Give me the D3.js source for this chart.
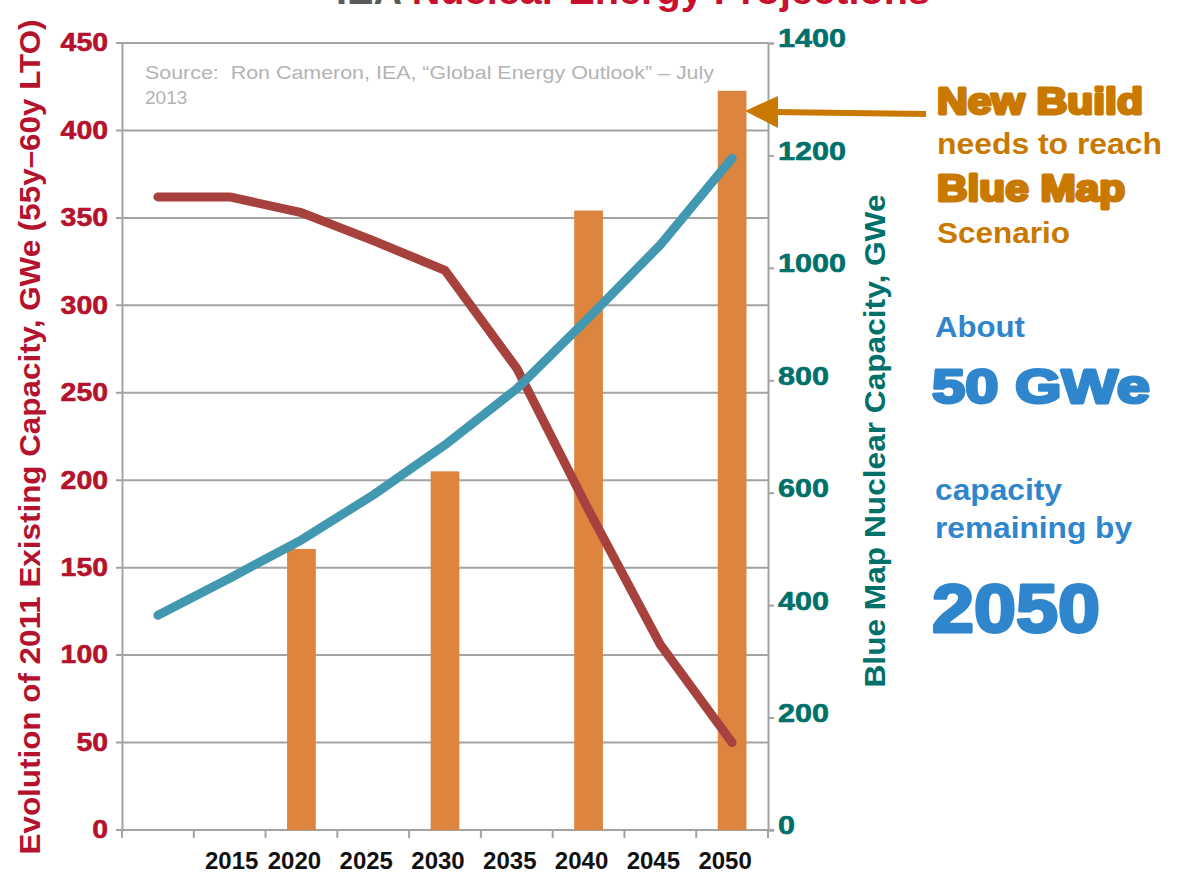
<!DOCTYPE html>
<html>
<head>
<meta charset="utf-8">
<script src="https://cdn.jsdelivr.net/npm/d3@7"></script>
<style>
  body { margin: 0; background: #fff; }
  svg { display: block; font-family: "Liberation Sans", Arial, sans-serif; }
</style>
</head>
<body>
<div id="showBox"></div>
<script>
// years on the x axis (2010 has no label in the original)
const years = ["2010", "2015", "2020", "2025", "2030", "2035", "2040", "2045", "2050"];
// evolution of 2011 existing capacity, GWe (left axis)
const existing = [362, 362, 353, 337, 320, 264, 183, 106, 50];
// blue map nuclear capacity, GWe (right axis)
const blueMap = [382, 448, 516, 596, 685, 785, 911, 1041, 1195];
// new build bars (right axis)
const barYears = ["2020", "2030", "2040", "2050"];
const barValues = [500, 638, 1102, 1315];
const leftTicks = [0, 50, 100, 150, 200, 250, 300, 350, 400, 450];
const rightTicks = [0, 200, 400, 600, 800, 1000, 1200, 1400];

const W = 1180, H = 873;
const plotL = 122, plotR = 768, plotT = 43, plotB = 830;

const red = "#b5122e", teal = "#00706b", grid = "#a3a3a3";
const orange = "#c97800", blue = "#2f86cc";

const svg = d3.select("#showBox").append("svg")
    .attr("width", W).attr("height", H);

const x = d3.scaleBand().domain(years).range([plotL, plotR]);
const yL = d3.scaleLinear().domain([0, 450]).range([plotB, plotT]);
const yR = d3.scaleLinear().domain([0, 1400]).range([plotB, plotT]);

// title, cut off at the top of the picture as in the original
const title = svg.append("text")
    .attr("x", 336).attr("y", 4)
    .attr("font-size", 38).attr("font-weight", "bold")
    .attr("textLength", 594).attr("lengthAdjust", "spacingAndGlyphs");
title.append("tspan").attr("fill", "#5a5a5a").text("IEA ");
title.append("tspan").attr("fill", "#c8102e").text("Nuclear Energy Projections");

// grid lines
svg.append("g").selectAll("line")
    .data(leftTicks)
    .join("line")
    .attr("x1", plotL - 6).attr("x2", plotR)
    .attr("y1", d => yL(d)).attr("y2", d => yL(d))
    .attr("stroke", grid).attr("stroke-width", 2);

// left axis
const gL = svg.append("g").attr("transform", `translate(${plotL},0)`)
    .call(d3.axisLeft(yL).tickValues(leftTicks).tickSize(0).tickPadding(14));
gL.select(".domain").attr("stroke", grid).attr("stroke-width", 2);
gL.selectAll("text")
    .attr("fill", red).attr("font-size", 26).attr("font-weight", "bold")
    .attr("font-family", "Liberation Sans, Arial, sans-serif")
    .attr("stroke", red).attr("stroke-width", 0.6)
    .attr("dy", "0.3em")
    .attr("textLength", d => String(d).length * 15.8).attr("lengthAdjust", "spacingAndGlyphs");

// right axis
const gR = svg.append("g").attr("transform", `translate(${plotR},0)`)
    .call(d3.axisRight(yR).tickValues(rightTicks).tickSize(6).tickPadding(4).tickFormat(d3.format("d")));
gR.select(".domain").attr("stroke", grid).attr("stroke-width", 2);
gR.selectAll(".tick line").attr("stroke", grid).attr("stroke-width", 2);
gR.selectAll("text")
    .attr("fill", teal).attr("font-size", 26).attr("font-weight", "bold")
    .attr("font-family", "Liberation Sans, Arial, sans-serif")
    .attr("stroke", teal).attr("stroke-width", 0.6)
    .attr("dy", "0.15em")
    .attr("textLength", d => String(d).length * 17).attr("lengthAdjust", "spacingAndGlyphs");

// bottom axis
const gB = svg.append("g").attr("transform", `translate(0,${plotB})`)
    .call(d3.axisBottom(x).tickSize(0).tickPadding(22).tickFormat(d => d === "2010" ? "" : d));
gB.select(".domain").attr("stroke", grid).attr("stroke-width", 2)
    .attr("d", `M${plotL - 6},0H${plotR + 6}`);
gB.selectAll("text")
    .attr("fill", "#111").attr("font-size", 24).attr("font-weight", "bold")
    .attr("font-family", "Liberation Sans, Arial, sans-serif")
    .attr("dx", d => d === "2015" ? 2 : -7);
gB.selectAll(".bound")
    .data(years.map(d => x(d)).concat([x.range()[1]]))
    .join("line").attr("class", "bound")
    .attr("x1", d => d).attr("x2", d => d)
    .attr("y1", 0).attr("y2", 8)
    .attr("stroke", grid).attr("stroke-width", 2);

// source note
const src = svg.append("text").attr("fill", "#b3b3b3").attr("font-size", 19)
    .style("white-space", "pre");
src.append("tspan").attr("x", 145).attr("y", 79)
    .attr("textLength", 569).attr("lengthAdjust", "spacingAndGlyphs")
    .text("Source:  Ron Cameron, IEA, \u201cGlobal Energy Outlook\u201d \u2013 July");
src.append("tspan").attr("x", 145).attr("y", 104).text("2013");

// new build bars
const bw = x.bandwidth() * 0.4;
svg.append("g").selectAll("rect")
    .data(barYears.map((d, i) => ({year: d, value: barValues[i]})))
    .join("rect")
    .attr("x", d => x(d.year) + x.bandwidth() / 2 - bw / 2)
    .attr("width", bw)
    .attr("y", d => yR(d.value))
    .attr("height", d => yR(0) - yR(d.value))
    .attr("fill", "#dd843f");

// lines
const cx = d => x(d) + x.bandwidth() / 2;
svg.append("path")
    .datum(years.map((d, i) => [cx(d), yL(existing[i])]))
    .attr("d", d3.line())
    .attr("fill", "none").attr("stroke", "#a6413e").attr("stroke-width", 9)
    .attr("stroke-linecap", "round").attr("stroke-linejoin", "round");
svg.append("path")
    .datum(years.map((d, i) => [cx(d), yR(blueMap[i])]))
    .attr("d", d3.line())
    .attr("fill", "none").attr("stroke", "#4298b0").attr("stroke-width", 9)
    .attr("stroke-linecap", "round").attr("stroke-linejoin", "round");

// axis titles
svg.append("text")
    .attr("transform", "translate(40,437) rotate(-90)")
    .attr("text-anchor", "middle")
    .attr("fill", red).attr("font-size", 29).attr("font-weight", "bold")
    .attr("textLength", 835).attr("lengthAdjust", "spacingAndGlyphs")
    .text("Evolution of 2011 Existing Capacity, GWe (55y\u201360y LTO)");
svg.append("text")
    .attr("transform", "translate(885,441) rotate(-90)")
    .attr("text-anchor", "middle")
    .attr("fill", teal).attr("font-size", 30).attr("font-weight", "bold")
    .attr("textLength", 493).attr("lengthAdjust", "spacingAndGlyphs")
    .text("Blue Map Nuclear Capacity, GWe");

// arrow pointing at the 2050 bar
svg.append("line")
    .attr("x1", 926).attr("y1", 114).attr("x2", 772).attr("y2", 112)
    .attr("stroke", orange).attr("stroke-width", 6);
svg.append("path")
    .attr("d", "M745,111L778,96L778,128Z")
    .attr("fill", orange);

// annotation on the right
const notes = [
    {t: "New Build", y: 114, size: 37, heavy: true, len: 206, c: orange, x: 937},
    {t: "needs to reach", y: 154, size: 30, heavy: false, len: 225, c: orange, x: 937},
    {t: "Blue Map", y: 201, size: 37, heavy: true, len: 188, c: orange, x: 937},
    {t: "Scenario", y: 243, size: 30, heavy: false, len: 133, c: orange, x: 937},
    {t: "About", y: 337, size: 30, heavy: false, len: 90, c: blue, x: 935},
    {t: "50 GWe", y: 403, size: 49, heavy: true, len: 218, c: blue, x: 932},
    {t: "capacity", y: 500, size: 30, heavy: false, len: 127, c: blue, x: 935},
    {t: "remaining by", y: 538, size: 30, heavy: false, len: 197, c: blue, x: 935},
    {t: "2050", y: 632, size: 68, heavy: true, len: 168, c: blue, x: 932}
];
svg.append("g").selectAll("text")
    .data(notes)
    .join("text")
    .attr("x", d => d.x).attr("y", d => d.y)
    .attr("font-size", d => d.size).attr("font-weight", "bold")
    .attr("fill", d => d.c)
    .attr("stroke", d => d.heavy ? d.c : "none")
    .attr("stroke-width", d => d.heavy ? 3 : 0)
    .attr("stroke-linejoin", "round")
    .attr("textLength", d => d.len).attr("lengthAdjust", "spacingAndGlyphs")
    .text(d => d.t);
</script>
</body>
</html>
